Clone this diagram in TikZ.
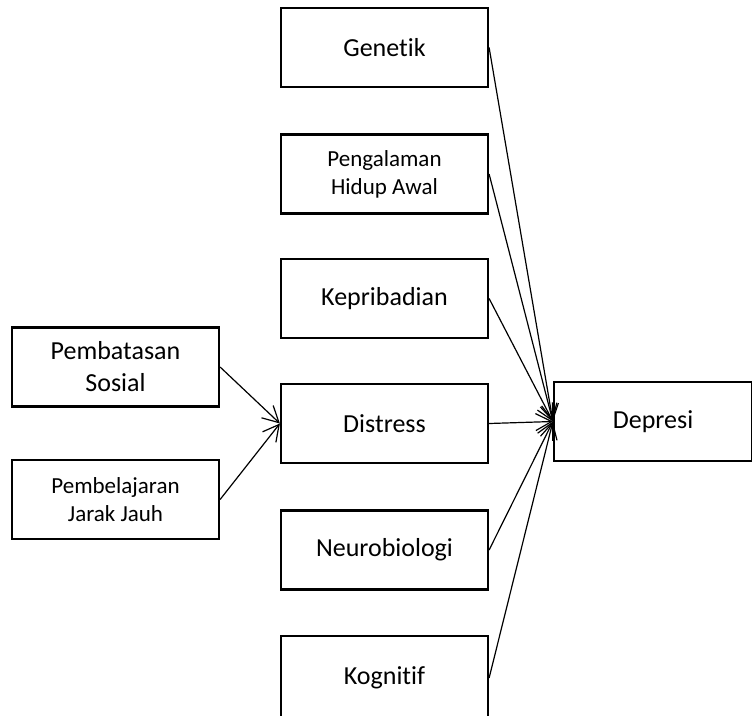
\documentclass[tikz,border=0pt]{standalone}
\usepackage{fontspec}
\setmainfont{Carlito}[Ligatures=NoCommon]
\usetikzlibrary{arrows.meta}
\tikzset{
  box/.style={draw=black, line width=2.2pt, fill=white, rectangle, minimum width=207pt, minimum height=79pt, align=center, inner sep=0pt, font=\fontsize{26}{32}\selectfont},
  smalltext/.style={font=\fontsize{23}{28}\selectfont},
  conn/.style={line width=1.2pt, -{Straight Barb[length=16pt,width=17pt,line width=1.2pt]}}
}
\begin{document}
\begin{tikzpicture}[x=1pt,y=-1pt]
\useasboundingbox (0,0) rectangle (752,715);
\node[box] (gen) at (384.5,47.5) {Genetik};
\node[box,smalltext] (pen) at (384.5,174) {Pengalaman\\Hidup Awal};
\node[box] (kep) at (384.5,298.5) {Kepribadian};
\node[box] (dis) at (384.5,423.5) {Distress};
\node[box] (neu) at (384.5,550) {Neurobiologi};
\node[box,minimum height=84pt] (kog) at (384.5,678) {Kognitif};
\node[box,minimum width=198pt] (dep) at (653,421.5) {Depresi};
\node[box] (pso) at (115.5,367) {Pembatasan\\Sosial};
\node[box,smalltext] (pjj) at (115.5,499.5) {Pembelajaran\\Jarak Jauh};
\draw[conn] (gen.east) -- (dep.west);
\draw[conn] (pen.east) -- (dep.west);
\draw[conn] (kep.east) -- (dep.west);
\draw[conn] (dis.east) -- (dep.west);
\draw[conn] (neu.east) -- (dep.west);
\draw[conn] (kog.east) -- (dep.west);
\draw[conn] (pso.east) -- (dis.west);
\draw[conn] (pjj.east) -- (dis.west);
\end{tikzpicture}
\end{document}
